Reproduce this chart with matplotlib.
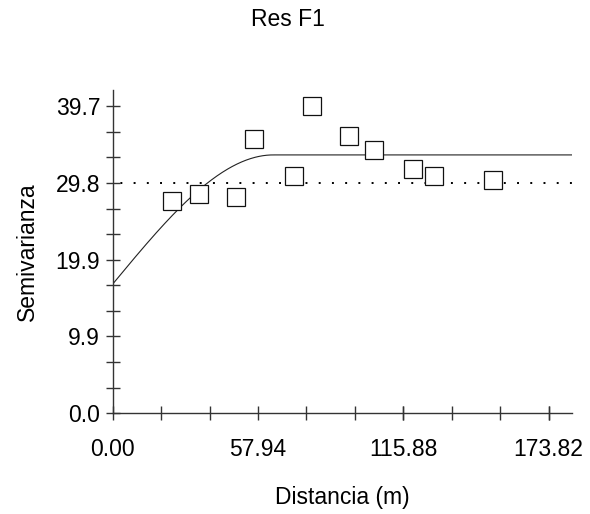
import numpy as np
import matplotlib
matplotlib.use("Agg")
import matplotlib.pyplot as plt
from matplotlib.ticker import FixedLocator

plt.rcParams['font.family'] = ['Liberation Sans', 'DejaVu Sans']

# Empirical semivariogram (lag distance, semivariance)
lag_m = [23.5, 34.5, 49.2, 56.5, 72.2, 79.5, 94.2, 104.3, 119.8, 128.0, 151.8]
semivar = [27.4, 28.3, 28.0, 35.5, 30.7, 39.7, 35.8, 34.0, 31.6, 30.7, 30.1]

# Fitted spherical model and sample variance
nugget = 16.7
sill = 33.4
model_range = 64.0
sample_variance = 29.8

x_major = [0.00, 57.94, 115.88, 173.82]
x_labels = ["0.00", "57.94", "115.88", "173.82"]
y_major = [0.0, 9.925, 19.85, 29.775, 39.7]
y_labels = ["0.0", "9.9", "19.9", "29.8", "39.7"]

x_max = 183.0
y_max = 41.8

FS = 16.5

fig = plt.figure(figsize=(5.9, 5.14), dpi=100)
ax = fig.add_axes([0.191, 0.196, 0.778, 0.629])

h = np.linspace(0, x_max, 600)
hr = np.clip(h / model_range, 0, 1)
gamma = nugget + (sill - nugget) * (1.5 * hr - 0.5 * hr ** 3)
ax.plot(h, gamma, color='#222222', lw=0.8, zorder=2)

ax.plot([0, x_max], [sample_variance, sample_variance], color='black',
        lw=1.4, linestyle=(3, (1, 5.8)), zorder=1)

ax.plot(lag_m, semivar, linestyle='none', marker='s', markersize=13,
        markerfacecolor='white', markeredgecolor='#111111',
        markeredgewidth=0.9, zorder=3)

ax.set_xlim(0, x_max)
ax.set_ylim(0, y_max)

ax.xaxis.set_major_locator(FixedLocator(x_major))
ax.set_xticklabels(x_labels)
ax.xaxis.set_minor_locator(FixedLocator([i * 19.313 for i in range(10)]))
ax.yaxis.set_major_locator(FixedLocator(y_major))
ax.set_yticklabels(y_labels)
ax.yaxis.set_minor_locator(FixedLocator([i * 39.7 / 12 for i in range(13)]))

for s in ('top', 'right'):
    ax.spines[s].set_visible(False)
for s in ('left', 'bottom'):
    ax.spines[s].set_color('#333333')
    ax.spines[s].set_linewidth(1.0)

ax.tick_params(which='both', direction='inout', length=10, width=1.0,
               color='#333333', labelsize=FS)
ax.tick_params(axis='x', pad=13)
ax.tick_params(axis='y', pad=4)

ax.set_xlabel("Distancia (m)", fontsize=FS, labelpad=18)
ax.set_ylabel("Semivarianza", fontsize=FS, labelpad=12)
fig.text(0.488, 0.963, "Res F1", ha='center', va='center', fontsize=FS)

fig.savefig("out.png", dpi=100)
